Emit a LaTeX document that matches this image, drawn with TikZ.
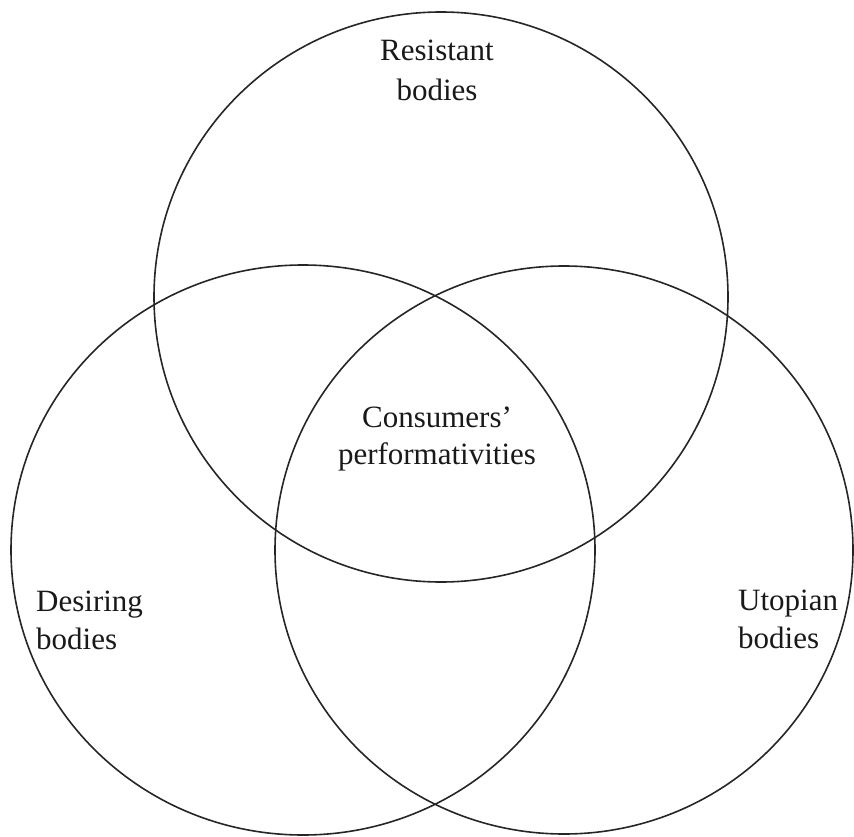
\documentclass[tikz,border=0pt]{standalone}
\usepackage{fontspec}
\setmainfont{Liberation Serif}
\begin{document}
\begin{tikzpicture}[x=1pt,y=-1pt]
  \tikzset{
    ring/.style={draw=black!85, line width=1.6pt},
    lbl/.style={font=\fontsize{31}{38}\selectfont, inner sep=0pt, text=black!90},
  }
  \useasboundingbox (0,0) rectangle (854,837);
  % the three overlapping sets
  \draw[ring] (441,297) ellipse [x radius=287pt, y radius=285pt];
  \draw[ring] (303,550) ellipse [x radius=292pt, y radius=285pt];
  \draw[ring] (564,550) ellipse [x radius=289pt, y radius=284pt];
  % set labels
  \node[lbl, align=center, anchor=base, font=\fontsize{31}{40}\selectfont] (resistant) at (437,101) {Resistant\\bodies};
  \node[lbl, align=left, anchor=base west] (desiring) at (36,649) {Desiring\\bodies};
  \node[lbl, align=left, anchor=base west] (utopian) at (738,648) {Utopian\\bodies};
  \node[lbl, align=center, anchor=base, font=\fontsize{31}{37}\selectfont] (core) at (437,464) {Consumers’\\performativities};
\end{tikzpicture}
\end{document}
